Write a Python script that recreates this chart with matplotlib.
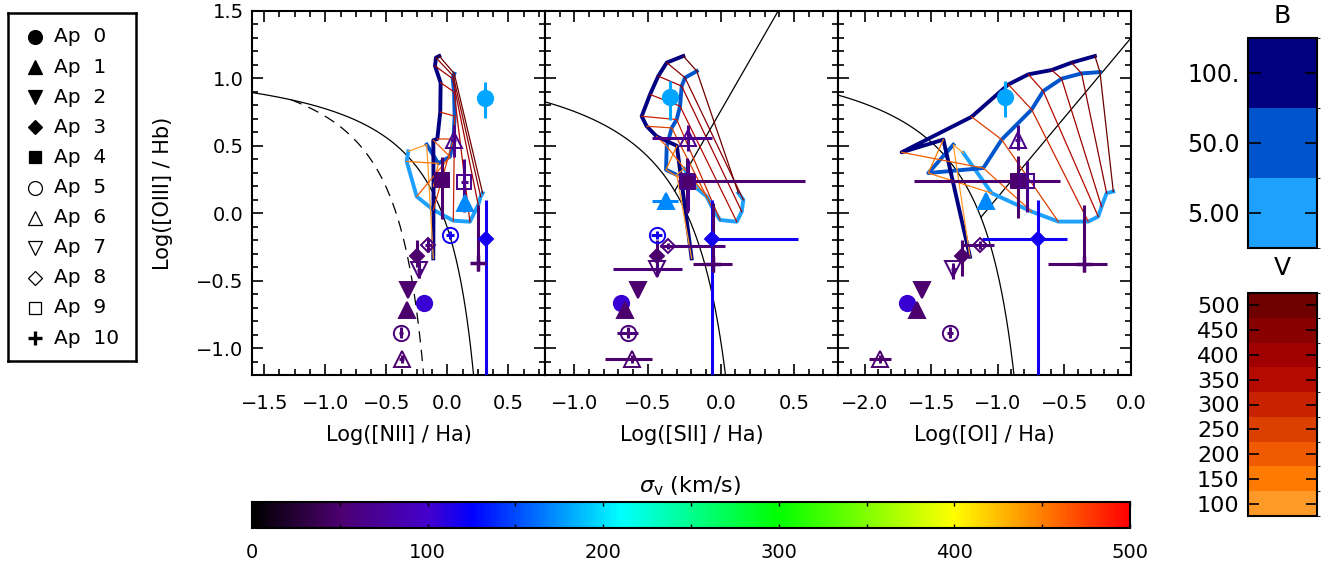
import matplotlib
matplotlib.use('Agg')
import matplotlib.pyplot as plt
import numpy as np
from matplotlib.colors import LinearSegmentedColormap, ListedColormap, BoundaryNorm, Normalize
from matplotlib.ticker import MultipleLocator
import matplotlib.cm as cm

plt.rcParams['font.family'] = ['DejaVu Sans']

# ---------------- data ----------------
# shock model grids (rows: B = 5, 50, 100 ; columns: V = 100 ... 500)
v_shock = [100, 150, 200, 250, 300, 350, 400, 450, 500]
b_field = [5, 50, 100]
b_labels = ['5.00', '50.0', '100.']
b_colors = ['#1EA0FF', '#0055CC', '#000080']
v_colors = ['#FF9A28', '#FF7A00', '#F05A00', '#DC4000', '#C82200',
            '#B40A00', '#A00000', '#880000', '#6E0000']

nii_grid_x = [[-0.320, -0.333, -0.251, -0.115, 0.049, 0.185, 0.253, 0.273, 0.289],
              [-0.169, -0.074, 0.022, 0.050, 0.060, 0.055, 0.044, 0.049, 0.057],
              [-0.115, -0.113, -0.115, -0.082, -0.058, -0.055, -0.101, -0.093, -0.066]]
nii_grid_y = [[0.459, 0.384, 0.124, 0.025, -0.055, -0.063, 0.062, 0.124, 0.149],
              [0.509, 0.370, 0.420, 0.550, 0.720, 0.900, 0.998, 1.017, 1.035],
              [-0.335, 0.200, 0.541, 0.551, 0.750, 0.968, 1.092, 1.154, 1.166]]

sii_grid_x = [[-0.250, -0.164, -0.096, -0.051, -0.005, 0.109, 0.143, 0.154, 0.120],
              [-0.301, -0.374, -0.369, -0.335, -0.301, -0.278, -0.267, -0.244, -0.164],
              [-0.199, -0.300, -0.438, -0.506, -0.540, -0.483, -0.427, -0.369, -0.256]]
sii_grid_y = [[0.330, 0.186, 0.124, 0.025, -0.050, -0.063, 0.012, 0.099, 0.149],
              [0.285, 0.322, 0.496, 0.633, 0.695, 0.794, 0.943, 1.005, 1.054],
              [-0.335, 0.500, 0.570, 0.645, 0.719, 0.881, 1.017, 1.117, 1.166]]

oi_grid_x = [[-1.259, -1.046, -0.746, -0.546, -0.321, -0.246, -0.221, -0.183, -0.133],
             [-1.334, -1.522, -1.109, -0.971, -0.746, -0.659, -0.521, -0.371, -0.233],
             [-1.209, -1.409, -1.722, -1.197, -0.921, -0.771, -0.596, -0.446, -0.271]]
oi_grid_y = [[0.447, 0.149, 0.012, -0.062, -0.062, -0.025, 0.049, 0.149, 0.161],
             [0.508, 0.298, 0.335, 0.546, 0.769, 0.906, 0.998, 1.037, 1.047],
             [-0.323, 0.546, 0.452, 0.715, 0.955, 1.030, 1.062, 1.117, 1.166]]

# aperture measurements
ap_num = [0, 0, 1, 1, 2, 3, 3, 4, 5, 5, 6, 6, 7, 8, 9, 10]
sigma_v = [180, 105, 170, 50, 50, 50, 118, 50, 118, 55, 65, 50, 55, 55, 65, 50]

oiii_hb = [0.856, -0.666, 0.074, -0.715, -0.571, -0.318, -0.191, 0.248,
           -0.162, -0.886, 0.546, -1.080, -0.422, -0.236, 0.235, -0.372]
oiii_lo = [0.15, 0, 0.02, 0, 0, 0.08, 2.0, 0.29, 0.03, 0.04, 0.13, 0.03, 0.06, 0.05, 0.225, 0.06]
oiii_hi = [0.12, 0, 0.02, 0, 0, 0.12, 0.29, 0.17, 0.03, 0.04, 0.11, 0.03, 0.06, 0.05, 0.165, 0.43]

nii_ha = [0.308, -0.189, 0.145, -0.333, -0.325, -0.251, 0.314, -0.041,
          0.022, -0.380, 0.054, -0.374, -0.230, -0.156, 0.139, 0.248]
nii_lo = [0.01, 0, 0.02, 0, 0, 0.02, 0.01, 0.03, 0.03, 0.02, 0.02, 0.02, 0.02, 0.03, 0.03, 0.04]
nii_hi = [0.01, 0, 0.02, 0, 0, 0.02, 0.01, 0.03, 0.03, 0.02, 0.02, 0.02, 0.02, 0.03, 0.03, 0.04]

sii_ha = [-0.347, -0.681, -0.374, -0.654, -0.563, -0.433, -0.062, -0.233,
          -0.438, -0.631, -0.222, -0.608, -0.438, -0.358, -0.222, -0.051]
sii_lo = [0.02, 0, 0.098, 0, 0, 0.02, 0.02, 0.06, 0.04, 0.08, 0.25, 0.183, 0.296, 0.057, 0.03, 0.136]
sii_hi = [0.02, 0, 0.084, 0, 0, 0.02, 0.59, 0.81, 0.04, 0.068, 0.16, 0.136, 0.171, 0.387, 0.03, 0.125]
oiii_sii = [0.861, -0.665, 0.087, -0.715, -0.571, -0.318, -0.191, 0.236,
            -0.162, -0.886, 0.558, -1.080, -0.417, -0.244, 0.235, -0.373]
oiii_sii_lo = [0.166, 0, 0.02, 0, 0, 0.08, 2.0, 0.236, 0.03, 0.04, 0.099, 0.03, 0.05, 0.02, 0.22, 0.062]
oiii_sii_hi = [0.119, 0, 0.02, 0, 0, 0.12, 0.29, 0.173, 0.03, 0.04, 0.099, 0.03, 0.05, 0.02, 0.16, 0.447]

oi_ha = [-0.946, -1.684, -1.091, -1.609, -1.567, -1.272, -0.696, -0.851,
         np.nan, -1.359, -0.851, -1.884, -1.334, -1.134, -0.784, -0.351]
oi_lo = [0.02, 0, 0.03, 0, 0, 0.02, 0.425, 0.78, 0, 0.02, 0.02, 0.08, 0.02, 0.136, 0.05, 0.27]
oi_hi = [0.02, 0, 0.03, 0, 0, 0.02, 0.213, 0.32, 0, 0.02, 0.02, 0.08, 0.02, 0.108, 0.05, 0.168]
oiii_oi = [0.864, -0.665, 0.087, -0.715, -0.571, -0.318, -0.191, 0.241,
           np.nan, -0.886, 0.546, -1.080, -0.417, -0.236, 0.241, -0.373]
oiii_oi_lo = [0.15, 0, 0.02, 0, 0, 0.15, 2.0, 0.28, 0, 0.04, 0.08, 0.03, 0.07, 0.03, 0.229, 0.06]
oiii_oi_hi = [0.12, 0, 0.02, 0, 0, 0.12, 0.29, 0.18, 0, 0.04, 0.11, 0.03, 0.05, 0.03, 0.144, 0.435]

# ---------------- styling ----------------
W, H = 1326, 567
fig = plt.figure(figsize=(W / 100, H / 100), dpi=100)


def rect(x0, y0, x1, y1):
    return [x0 / W, 1 - y1 / H, (x1 - x0) / W, (y1 - y0) / H]


sig_cmap = LinearSegmentedColormap.from_list('idl_rainbow', [
    (0.0, '#000000'), (0.1, '#4C0070'), (0.2, '#4400CC'), (0.25, '#0000FF'),
    (0.42, '#00FFFF'), (0.6, '#00FF00'), (0.8, '#FFFF00'), (1.0, '#FF0000')])
sig_norm = Normalize(0, 500)

shapes = ['o', '^', 'v', 'D', 's']

panels = [
    dict(left=252, xlim=(-1.6, 0.8), minor=0.125, label='Log([NII] / Ha)',
         gx=nii_grid_x, gy=nii_grid_y, x=nii_ha, xlo=nii_lo, xhi=nii_hi,
         y=oiii_hb, ylo=oiii_lo, yhi=oiii_hi),
    dict(left=545, xlim=(-1.2, 0.8), minor=0.1, label='Log([SII] / Ha)',
         gx=sii_grid_x, gy=sii_grid_y, x=sii_ha, xlo=sii_lo, xhi=sii_hi,
         y=oiii_sii, ylo=oiii_sii_lo, yhi=oiii_sii_hi),
    dict(left=838, xlim=(-2.2, 0.0), minor=0.1, label='Log([OI] / Ha)',
         gx=oi_grid_x, gy=oi_grid_y, x=oi_ha, xlo=oi_lo, xhi=oi_hi,
         y=oiii_oi, ylo=oiii_oi_lo, yhi=oiii_oi_hi),
]

for k, p in enumerate(panels):
    ax = fig.add_axes(rect(p['left'], 11, p['left'] + 293, 375))
    ax.set_xlim(*p['xlim'])
    ax.set_ylim(-1.2, 1.5)

    # demarcation lines
    if k == 0:
        xx = np.linspace(-1.6, 0.46, 400)
        ax.plot(xx, 0.61 / (xx - 0.47) + 1.19, color='k', lw=0.9, zorder=1)
        xx = np.linspace(-1.28, 0.04, 400)
        ax.plot(xx, 0.61 / (xx - 0.05) + 1.3, color='k', lw=0.9, ls=(0, (9, 6)), zorder=1)
    elif k == 1:
        xx = np.linspace(-1.2, 0.31, 400)
        ax.plot(xx, 0.72 / (xx - 0.32) + 1.30, color='k', lw=0.9, zorder=1)
        xx = np.linspace(-0.315, 0.8, 50)
        ax.plot(xx, 1.89 * xx + 0.76, color='k', lw=0.9, zorder=1)
    else:
        xx = np.linspace(-2.2, -0.60, 400)
        ax.plot(xx, 0.73 / (xx + 0.59) + 1.33, color='k', lw=0.9, zorder=1)
        xx = np.linspace(-1.127, 0.0, 50)
        ax.plot(xx, 1.18 * xx + 1.30, color='k', lw=0.9, zorder=1)

    # shock model grids
    gx = np.array(p['gx'])
    gy = np.array(p['gy'])
    for b in range(len(b_field)):
        ax.plot(gx[b], gy[b], color=b_colors[b], lw=2.8, zorder=2,
                solid_joinstyle='round')
    for v in range(len(v_shock)):
        ax.plot(gx[:, v], gy[:, v], color=v_colors[v], lw=0.9, zorder=3)

    # aperture points
    for i in range(len(ap_num)):
        if np.isnan(p['x'][i]):
            continue
        ap = ap_num[i]
        if ap == 10:
            mk, filled = '+', True
        else:
            mk, filled = shapes[ap % 5], ap < 5
        c = sig_cmap(sig_norm(sigma_v[i]))
        ms = 7.6 if mk == 'D' else (10.5 if mk == 's' else 11)
        ax.errorbar(p['x'][i], p['y'][i],
                    xerr=[[p['xlo'][i]], [p['xhi'][i]]],
                    yerr=[[p['ylo'][i]], [p['yhi'][i]]],
                    fmt=mk, color=c, ms=ms, mfc=c if filled else 'none', mec=c,
                    mew=2.5 if mk == '+' else 1.4, elinewidth=2.2, capsize=0, zorder=5)

    ax.xaxis.set_major_locator(MultipleLocator(0.5))
    ax.xaxis.set_minor_locator(MultipleLocator(p['minor']))
    ax.yaxis.set_major_locator(MultipleLocator(0.5))
    ax.yaxis.set_minor_locator(MultipleLocator(0.1))
    ax.tick_params(which='both', direction='in', top=True, right=True, width=1.2,
                   labelsize=14)
    ax.tick_params(which='major', length=8)
    ax.tick_params(which='minor', length=4)
    ax.tick_params(axis='x', pad=14)
    ax.tick_params(axis='y', pad=6)
    for s in ax.spines.values():
        s.set_linewidth(1.5)
    if k > 0:
        ax.set_yticklabels([])
    fig.text((p['left'] + 146.5) / W, 1 - 435 / H, p['label'], ha='center',
             va='center', fontsize=15)

fig.text(163 / W, 1 - 193 / H, 'Log([OIII] / Hb)', rotation=90, ha='center',
         va='center', fontsize=15)

# legend box
lax = fig.add_axes(rect(8, 13, 136, 361))
lax.set_xlim(0, 128)
lax.set_ylim(348, 0)
lax.set_xticks([])
lax.set_yticks([])
for s in lax.spines.values():
    s.set_linewidth(1.8)
for ap in range(11):
    yy = 24 + 30.1 * ap
    if ap == 10:
        mk, filled = '+', True
    else:
        mk, filled = shapes[ap % 5], ap < 5
    ms = 7 if mk == 'D' else (9 if mk == 's' else 10)
    lax.plot(27, yy, marker=mk, color='k', ms=ms, mfc='k' if filled else 'none',
             mew=2.4 if mk == '+' else 0.9, ls='none')
    lax.text(46, yy, 'Ap  %d' % ap, va='center', ha='left', fontsize=14.5)

# sigma colour bar
sax = fig.add_axes(rect(252, 502, 1130, 528))
cb = fig.colorbar(cm.ScalarMappable(norm=sig_norm, cmap=sig_cmap), cax=sax,
                  orientation='horizontal')
cb.set_ticks(list(range(0, 501, 50)))
cb.set_ticklabels([str(t) if t % 100 == 0 else '' for t in range(0, 501, 50)])
sax.tick_params(direction='in', top=True, bottom=True, length=3, width=1.0,
                labelsize=14, pad=11)
cb.outline.set_linewidth(1.5)
fig.text(690 / W, 1 - 486 / H, r'$\sigma_{\rm v}$ (km/s)', ha='center', va='center',
         fontsize=16)

# B colour bar
bax = fig.add_axes(rect(1248, 38, 1317, 248))
bcmap = ListedColormap(b_colors)
bnorm = BoundaryNorm(np.arange(len(b_field) + 1), bcmap.N)
bcb = fig.colorbar(cm.ScalarMappable(norm=bnorm, cmap=bcmap), cax=bax,
                   orientation='vertical')
bcb.set_ticks(np.arange(len(b_field)) + 0.5)
bcb.set_ticklabels(b_labels)
bax.tick_params(direction='in', left=True, right=True, labelleft=True,
                labelright=False, length=9, width=1.2, labelsize=17, pad=6)
bcb.outline.set_linewidth(1.5)
fig.text(1282 / W, 1 - 16 / H, 'B', ha='center', va='center', fontsize=18)

# V colour bar
vax = fig.add_axes(rect(1248, 293, 1317, 516))
vcmap = ListedColormap(v_colors)
vnorm = BoundaryNorm(np.arange(len(v_shock) + 1), vcmap.N)
vcb = fig.colorbar(cm.ScalarMappable(norm=vnorm, cmap=vcmap), cax=vax,
                   orientation='vertical')
vcb.set_ticks(np.arange(len(v_shock)) + 0.5)
vcb.set_ticklabels([str(v) for v in v_shock])
vax.tick_params(direction='in', left=True, right=True, labelleft=True,
                labelright=False, length=8, width=1.2, labelsize=16, pad=6)
vcb.outline.set_linewidth(1.5)
fig.text(1282 / W, 1 - 268 / H, 'V', ha='center', va='center', fontsize=18)

plt.savefig('out.png', dpi=100)
